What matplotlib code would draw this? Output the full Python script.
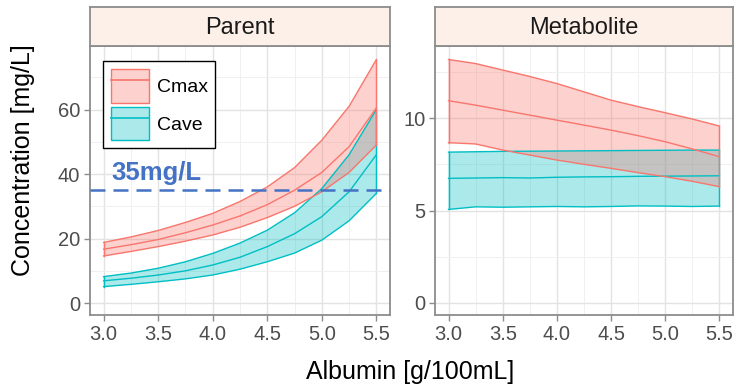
import matplotlib
matplotlib.use("Agg")
import matplotlib.pyplot as plt
import numpy as np
from matplotlib.patches import Patch
from matplotlib.lines import Line2D

plt.rcParams['font.family'] = ['Liberation Sans', 'DejaVu Sans']

# albumin grid [g/100mL]
albumin = [3.0, 3.25, 3.5, 3.75, 4.0, 4.25, 4.5, 4.75, 5.0, 5.25, 5.5]

# Parent, Cmax (median and band)
par_cmax_lo = [14.6, 16.0, 17.5, 19.2, 21.1, 23.5, 26.5, 30.0, 34.5, 40.5, 49.0]
par_cmax_md = [16.7, 18.1, 19.7, 21.8, 24.2, 27.0, 30.5, 35.0, 40.5, 48.5, 60.5]
par_cmax_hi = [18.8, 20.5, 22.5, 25.0, 27.8, 31.5, 36.0, 42.0, 50.5, 61.0, 75.5]
# Parent, Cave
par_cave_lo = [5.1, 5.8, 6.6, 7.5, 8.7, 10.5, 12.8, 15.5, 19.5, 25.5, 34.0]
par_cave_md = [6.9, 7.7, 8.7, 10.0, 11.8, 14.2, 17.5, 21.5, 26.8, 34.5, 46.0]
par_cave_hi = [8.2, 9.3, 10.8, 12.8, 15.4, 18.6, 22.6, 28.0, 35.5, 46.0, 60.0]

# Metabolite, Cmax
met_cmax_lo = [8.67, 8.60, 8.27, 8.00, 7.73, 7.50, 7.28, 7.05, 6.83, 6.58, 6.29]
met_cmax_md = [10.94, 10.70, 10.43, 10.16, 9.89, 9.62, 9.35, 9.05, 8.72, 8.33, 7.91]
met_cmax_hi = [13.17, 12.95, 12.60, 12.25, 11.87, 11.42, 10.97, 10.62, 10.29, 9.95, 9.57]
# Metabolite, Cave
met_cave_lo = [5.06, 5.20, 5.18, 5.20, 5.22, 5.20, 5.22, 5.25, 5.24, 5.22, 5.24]
met_cave_md = [6.74, 6.76, 6.78, 6.76, 6.80, 6.82, 6.83, 6.85, 6.86, 6.87, 6.88]
met_cave_hi = [8.16, 8.18, 8.20, 8.21, 8.22, 8.23, 8.24, 8.25, 8.26, 8.27, 8.27]

threshold = 35
red = '#F8766D'
cyan = '#00BFC4'
grey_txt = '#4D4D4D'
frame = '#8C8C8C'

fig = plt.figure(figsize=(7.38, 3.87), dpi=100)
W, H = 738, 387


def px_axes(x0, y0, x1, y1):
    return fig.add_axes([x0 / W, 1 - y1 / H, (x1 - x0) / W, (y1 - y0) / H])


ax1 = px_axes(90, 46, 390, 315)
ax2 = px_axes(435, 46, 733, 315)


def draw_panel(ax, cave, cmax):
    x = np.array(albumin)
    for (lo, md, hi), col in [(cave, cyan), (cmax, red)]:
        ax.fill_between(x, lo, hi, facecolor=col, alpha=0.33, edgecolor='none', zorder=2)
    for (lo, md, hi), col in [(cave, cyan), (cmax, red)]:
        for s in (lo, md, hi):
            ax.plot(x, s, color=col, lw=1.0, zorder=3)
        ax.plot([x[0], x[0]], [lo[0], hi[0]], color=col, lw=1.0, zorder=3)
        ax.plot([x[-1], x[-1]], [lo[-1], hi[-1]], color=col, lw=1.0, zorder=3)
    ax.set_xlim(2.875, 5.625)
    ax.set_xticks([3.0, 3.5, 4.0, 4.5, 5.0, 5.5])
    ax.set_xticks([3.25, 3.75, 4.25, 4.75, 5.25], minor=True)
    ax.grid(which='major', color='#E3E3E3', lw=1.0, zorder=0)
    ax.grid(which='minor', color='#F0F0F0', lw=0.7, zorder=0)
    ax.set_axisbelow(True)
    for sp in ax.spines.values():
        sp.set_color(frame)
        sp.set_linewidth(1.3)
    ax.tick_params(which='major', length=4, width=1, color=frame,
                   labelsize=14.5, labelcolor=grey_txt, pad=3)
    ax.tick_params(which='minor', length=0)


draw_panel(ax1, (par_cave_lo, par_cave_md, par_cave_hi),
           (par_cmax_lo, par_cmax_md, par_cmax_hi))
ax1.set_ylim(-3.7, 79.7)
ax1.set_yticks([0, 20, 40, 60])
ax1.set_yticks([10, 30, 50, 70], minor=True)
ax1.axhline(threshold, color='#4472C4', lw=1.8, ls=(0, (6.0, 3.2)), zorder=4)
ax1.text(3.07, 38.1, '35mg/L', color='#4472C4', fontsize=18.5,
         fontweight='bold', ha='left', va='baseline', zorder=5)

draw_panel(ax2, (met_cave_lo, met_cave_md, met_cave_hi),
           (met_cmax_lo, met_cmax_md, met_cmax_hi))
ax2.set_ylim(-0.65, 13.9)
ax2.set_yticks([0, 5, 10])
ax2.set_yticks([2.5, 7.5, 12.5], minor=True)

# legend
handles = [(Patch(facecolor=red, alpha=0.33, edgecolor='none'),
            Patch(facecolor='none', edgecolor=red, lw=1.0),
            Line2D([], [], color=red, lw=1.2)),
           (Patch(facecolor=cyan, alpha=0.33, edgecolor='none'),
            Patch(facecolor='none', edgecolor=cyan, lw=1.0),
            Line2D([], [], color=cyan, lw=1.2))]
leg = ax1.legend(handles, ['Cmax', 'Cave'], loc='upper left',
                 bbox_to_anchor=(0.0435, 0.944), borderaxespad=0,
                 fontsize=14, handlelength=1.95, handleheight=2.3,
                 labelspacing=0.2, handletextpad=0.4, borderpad=0.4,
                 fancybox=False, framealpha=1)
leg.get_frame().set_edgecolor('black')
leg.get_frame().set_linewidth(1.0)
leg.set_zorder(10)

# facet strips
for (x0, x1), title in [((90, 390), 'Parent'), ((435, 733), 'Metabolite')]:
    st = px_axes(x0, 7, x1, 46)
    st.set_facecolor('#FDF0E9')
    st.set_xticks([])
    st.set_yticks([])
    for sp in st.spines.values():
        sp.set_color(frame)
        sp.set_linewidth(1.3)
    st.text(0.5, 0.47, title, ha='center', va='center', fontsize=17,
            color='#1A1A1A', transform=st.transAxes)

fig.text(410 / W, 1 - 372 / H, 'Albumin [g/100mL]', ha='center', va='center',
         fontsize=18, color='black')
fig.text(23 / W, 1 - 160 / H, 'Concentration [mg/L]', ha='center', va='center',
         rotation=90, fontsize=18, color='black')

fig.savefig('out.png', dpi=100)
